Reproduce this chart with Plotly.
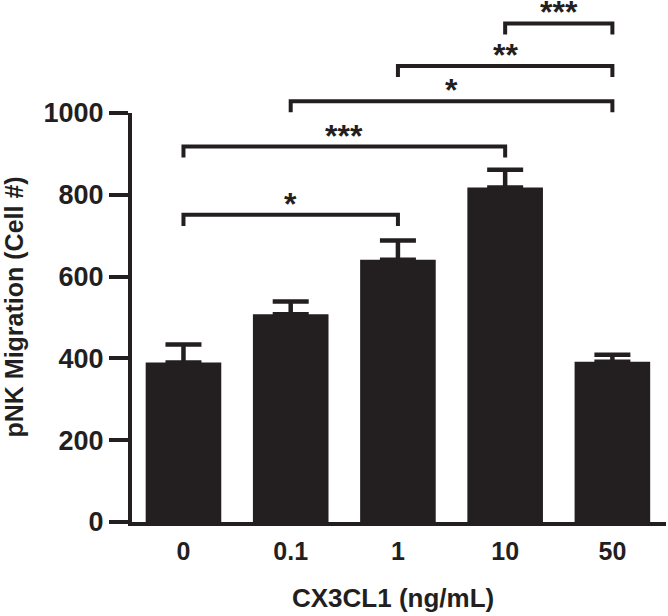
import plotly.graph_objects as go

# ---- data ----
categories = ["0", "0.1", "1", "10", "50"]
migration_mean = [390, 508, 641, 818, 392]
migration_sem = [44, 31, 47, 43, 17]

# significance comparisons between categories
comp_left = [0, 0, 1, 2, 3]
comp_right = [2, 3, 4, 4, 4]
comp_height = [751, 918, 1029, 1115, 1219]
comp_label = ["*", "***", "*", "**", "***"]

y_ticks = [0, 200, 400, 600, 800, 1000]

# ---- style / layout constants ----
INK = "#231f20"
FONT = "Liberation Sans, Arial, Helvetica, sans-serif"
W, H = 668, 616
M_L, M_R, M_T, M_B = 132, 2, 2, 94
PLOT_W = W - M_L - M_R
PLOT_H = H - M_T - M_B
PX_PER_UNIT = 0.409
Y_MAX = 1000
y_dom_top = Y_MAX * PX_PER_UNIT / PLOT_H
y2_max = PLOT_H / PX_PER_UNIT
DROP = 27

xs = list(range(len(categories)))

fig = go.Figure()
fig.add_trace(go.Bar(
    x=xs, y=migration_mean, width=0.705,
    marker=dict(color=INK, line=dict(width=0)),
    error_y=dict(type="data", array=migration_sem, arrayminus=[0] * len(xs),
                 symmetric=False, color=INK, thickness=4.5, width=18),
    xaxis="x", yaxis="y", showlegend=False, hoverinfo="skip",
))

for l, r, h, lab in zip(comp_left, comp_right, comp_height, comp_label):
    fig.add_trace(go.Scatter(
        x=[l, l, r, r], y=[h - DROP, h, h, h - DROP], mode="lines",
        line=dict(color=INK, width=4), xaxis="x", yaxis="y2",
        hoverinfo="skip", showlegend=False,
    ))
    fig.add_annotation(
        x=(l + r) / 2, y=h, xref="x", yref="y2", text=lab, showarrow=False,
        font=dict(size=32, color=INK, family=FONT, weight="bold"),
        xanchor="center", yanchor="middle", yshift=11,
    )

# axis titles
fig.add_annotation(
    text="pNK Migration (Cell #)", xref="paper", yref="paper",
    x=(13 - M_L) / PLOT_W, y=(H - M_B - 307.5) / PLOT_H,
    textangle=-90, showarrow=False, xanchor="center", yanchor="middle",
    font=dict(size=25, color=INK, family=FONT, weight="bold"),
)
fig.add_annotation(
    text="CX3CL1 (ng/mL)", xref="paper", yref="paper",
    x=(393 - M_L) / PLOT_W, y=0, yshift=-76,
    showarrow=False, xanchor="center", yanchor="middle",
    font=dict(size=26, color=INK, family=FONT, weight="bold"),
)

fig.update_layout(
    width=W, height=H,
    margin=dict(l=M_L, r=M_R, t=M_T, b=M_B, autoexpand=False),
    paper_bgcolor="white", plot_bgcolor="rgba(0,0,0,0)",
    showlegend=False,
    font=dict(family=FONT, color=INK),
    xaxis=dict(
        range=[-0.48, 4.5], tickmode="array", tickvals=xs, ticktext=categories,
        showline=True, linewidth=4, linecolor=INK, ticks="",
        showgrid=False, zeroline=False, anchor="y", automargin=False,
        tickfont=dict(size=25, color=INK, family=FONT, weight="bold"),
        ticklabelstandoff=4,
    ),
    yaxis=dict(
        domain=[0, y_dom_top], range=[0, Y_MAX], tickmode="array", tickvals=y_ticks,
        ticks="outside", ticklen=19, tickwidth=4, tickcolor=INK,
        showline=True, linewidth=4, linecolor=INK,
        showgrid=False, zeroline=False, anchor="x", automargin=False,
        tickfont=dict(size=27, color=INK, family=FONT, weight="bold"),
    ),
    yaxis2=dict(
        domain=[0, 1], range=[0, y2_max], visible=False, anchor="x",
        showgrid=False, zeroline=False, automargin=False,
    ),
)

fig.write_html(
    "out.html",
    config={"displayModeBar": False},
    post_script="document.body.style.margin='0';document.body.style.overflow='hidden';",
)
